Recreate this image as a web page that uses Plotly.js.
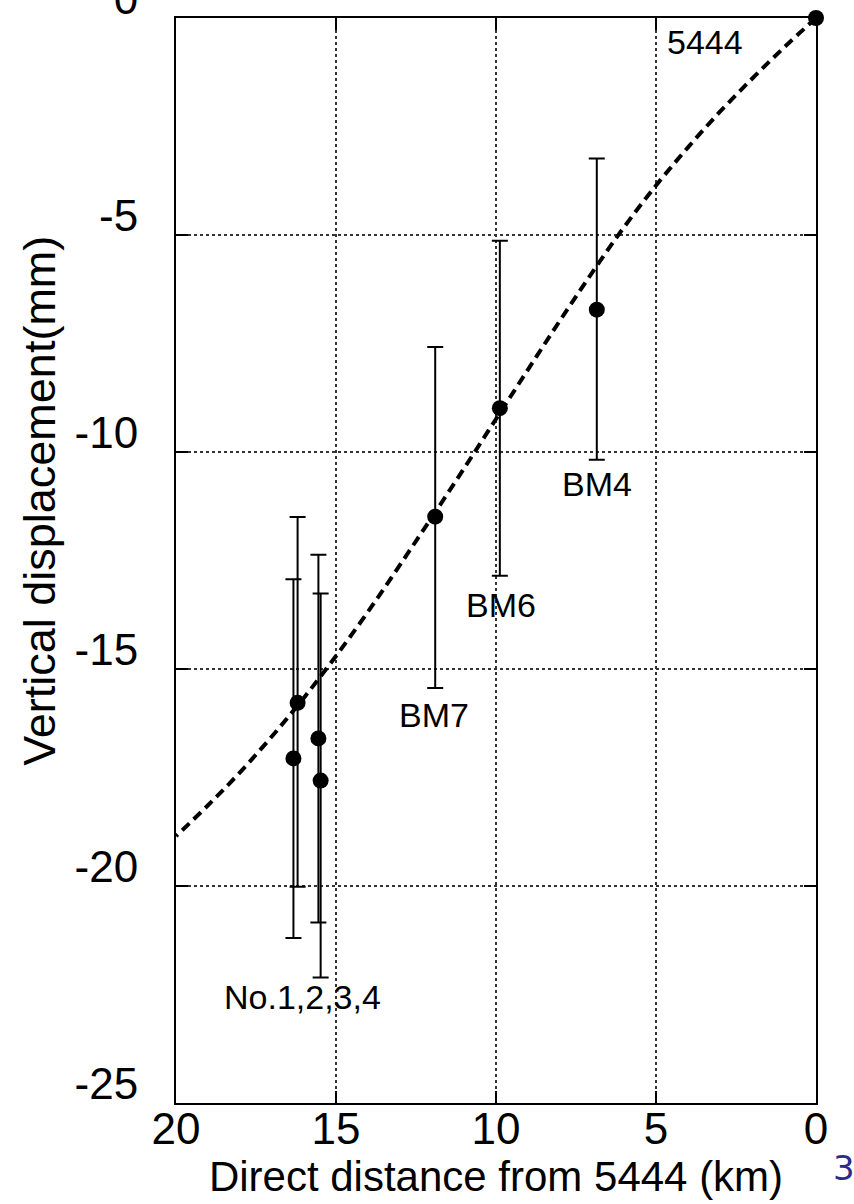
<!DOCTYPE html>
<html>
<head>
<meta charset="utf-8">
<script src="https://cdn.plot.ly/plotly-3.0.1.min.js"></script>
<style>html,body{margin:0;padding:0;background:#fff;}#chart{width:854px;height:1204px;}</style>
</head>
<body>
<div id="chart"></div>
<script>
// Benchmarks (distance from 5444 in km, vertical displacement in mm)
const benchNames = ["BM4", "BM6", "BM7", "No.1", "No.2", "No.3", "No.4"];
const benchDist = [6.85, 9.88, 11.9, 16.2, 16.33, 15.55, 15.48];
const benchDisp = [-6.72, -8.99, -11.49, -15.78, -17.06, -16.6, -17.57];
const errPlus = [3.48, 3.86, 3.91, 4.28, 4.13, 4.23, 4.31];
const errMinus = [3.46, 3.86, 3.95, 4.24, 4.14, 4.24, 4.54];

// Reference point
const refDist = [0];
const refDisp = [0];

// Model curve (dashed)
const modelDist = [0, 1, 2, 3, 4, 5, 6, 7, 8, 9, 10, 11, 12, 13, 14, 15, 16, 17, 18, 19, 20];
const modelDisp = [0, -0.68, -1.4, -2.16, -2.98, -3.86, -4.82, -5.87, -6.97, -8.1, -9.24, -10.38, -11.5, -12.6, -13.68, -14.7, -15.66, -16.55, -17.38, -18.14, -18.85];

// Labels
const labelText = ["5444", "BM4", "BM6", "BM7", "No.1,2,3,4"];
const labelX = [3.47, 6.84, 9.84, 11.94, 16.05];
const labelY = [-0.55, -10.74, -13.53, -16.06, -22.55];

// Axis ticks
const xTicks = [20, 15, 10, 5, 0];
const xTickText = ["20", "15", "10", "5", "0"];
const yTicks = [0, -5, -10, -15, -20, -25];
const yTickText = ["0", "-5", "-10", "-15", "-20", "-25"];

const FONT = "Liberation Sans, Arial, Helvetica, sans-serif";

const traces = [
  {
    x: modelDist, y: modelDisp, type: "scatter", mode: "lines",
    line: {color: "#000", width: 4, dash: "10px,6px", shape: "spline"},
    hoverinfo: "skip", showlegend: false
  },
  {
    x: benchDist, y: benchDisp, type: "scatter", mode: "markers",
    text: benchNames,
    marker: {color: "#000", size: 16},
    error_y: {type: "data", symmetric: false, array: errPlus, arrayminus: errMinus,
              color: "#000", thickness: 2, width: 8},
    showlegend: false
  },
  {
    x: refDist, y: refDisp, type: "scatter", mode: "markers",
    marker: {color: "#000", size: 16},
    cliponaxis: false, showlegend: false
  }
];

const annotations = labelText.map((t, i) => ({
  x: labelX[i], y: labelY[i], xref: "x", yref: "y", text: t,
  showarrow: false, xanchor: "center", yanchor: "middle",
  font: {family: FONT, size: 34, color: "#000"}
}));

annotations.push({
  xref: "paper", yref: "paper", x: -0.2125, y: 0.555,
  text: "Vertical displacement(mm)", textangle: -90, showarrow: false,
  xanchor: "center", yanchor: "middle",
  font: {family: FONT, size: 45, color: "#000"}
});
annotations.push({
  xref: "paper", yref: "paper", x: 1.044, y: -0.0599,
  text: "3", showarrow: false, xanchor: "center", yanchor: "middle",
  font: {family: "DejaVu Sans, sans-serif", size: 34, color: "#2b2b88"}
});

const axisCommon = {
  showline: true, linecolor: "#000", linewidth: 2, mirror: "ticks",
  ticks: "inside", ticklen: 12, tickwidth: 2, tickcolor: "#000",
  showgrid: true, gridcolor: "#333", gridwidth: 1.5, griddash: "dot",
  zeroline: false, ticklabeloverflow: "allow",
  tickfont: {family: FONT, size: 44, color: "#000"}
};

const layout = {
  width: 854, height: 1204,
  margin: {l: 176, r: 38, t: 18, b: 101, pad: 0},
  paper_bgcolor: "#fff", plot_bgcolor: "#fff",
  font: {family: FONT, color: "#000"},
  showlegend: false,
  xaxis: Object.assign({}, axisCommon, {
    range: [20, 0], tickvals: xTicks, ticktext: xTickText,
    ticklabelstandoff: -14,
    title: {text: "Direct distance from 5444 (km)", font: {family: FONT, size: 42, color: "#000"}, standoff: 10}
  }),
  yaxis: Object.assign({}, axisCommon, {
    range: [-25, 0], tickvals: yTicks, ticktext: yTickText,
    ticklabelshift: -19, ticklabelstandoff: 27
  }),
  annotations: annotations
};

Plotly.newPlot("chart", traces, layout, {displayModeBar: false, staticPlot: true});
</script>
</body>
</html>
